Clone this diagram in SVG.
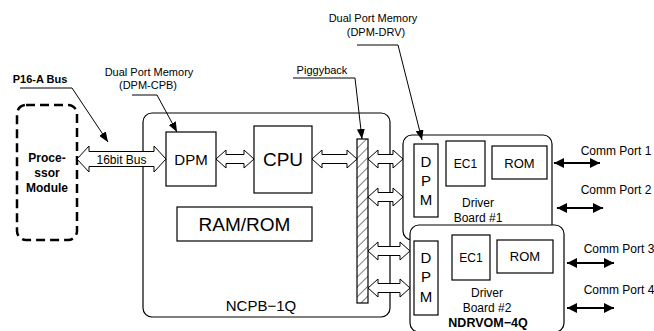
<svg xmlns="http://www.w3.org/2000/svg" width="654" height="331" viewBox="0 0 654 331">
<defs>
<marker id="tri" viewBox="0 0 10 8" refX="10" refY="4" markerWidth="10" markerHeight="8" markerUnits="userSpaceOnUse" orient="auto"><path d="M0,0 L10,4 L0,8 Z" fill="#000"/></marker>
<marker id="tri2" viewBox="0 0 10 10" refX="10" refY="5" markerWidth="11" markerHeight="10" markerUnits="userSpaceOnUse" orient="auto-start-reverse"><path d="M0,0 L10,5 L0,10 Z" fill="#000"/></marker>
<pattern id="hatch" patternUnits="userSpaceOnUse" width="7" height="7" patternTransform="rotate(45)">
<rect width="7" height="7" fill="#fff"/><line x1="0" y1="0" x2="0" y2="7" stroke="#000" stroke-width="1"/>
</pattern>
</defs>
<style>
.box{fill:#fff;stroke:#000;stroke-width:1.2}
.t{font-family:"Liberation Sans",Arial,sans-serif;fill:#000;text-anchor:middle}
.lead{fill:none;stroke:#000;stroke-width:1}
.harrow{fill:#fff;stroke:#000;stroke-width:1}
.comm{stroke:#000;stroke-width:2}
</style>
<rect width="654" height="331" fill="#fff"/>

<g id="processor-module">
<rect x="17" y="105" width="60" height="135" rx="9" fill="#fff" stroke="#000" stroke-width="2.5" stroke-dasharray="9 5"/>
<text class="t" x="47" y="162" font-size="12" font-weight="bold">Proce-</text>
<text class="t" x="47" y="177" font-size="12" font-weight="bold">ssor</text>
<text class="t" x="47" y="192" font-size="12" font-weight="bold">Module</text>
</g>

<g id="ncpb">
<rect class="box" x="143" y="113" width="247" height="204" rx="9"/>
<text class="t" x="261" y="311" font-size="15">NCPB−1Q</text>
</g>

<g id="dpm-cpb">
<rect class="box" x="166" y="132" width="50" height="54"/>
<text class="t" x="191" y="164.5" font-size="15">DPM</text>
</g>

<g id="cpu">
<rect class="box" x="254" y="126" width="58" height="67"/>
<text class="t" x="283" y="166" font-size="19">CPU</text>
</g>

<g id="ramrom">
<rect class="box" x="177" y="207" width="135" height="34"/>
<text class="t" x="244.5" y="231" font-size="19">RAM/ROM</text>
</g>

<g id="piggyback">
<rect x="357" y="139" width="11" height="164" fill="url(#hatch)" stroke="#000" stroke-width="1.2"/>
</g>

<g id="driver-board-1">
<rect class="box" x="403" y="135" width="149" height="105" rx="9"/>
<rect class="box" x="414" y="144" width="24" height="73"/>
<text class="t" x="426" y="167" font-size="15">D</text>
<text class="t" x="426" y="186" font-size="15">P</text>
<text class="t" x="426" y="205" font-size="15">M</text>
<rect class="box" x="446" y="141" width="39" height="45"/>
<text class="t" x="465.5" y="168" font-size="12">EC1</text>
<rect class="box" x="492" y="146" width="55" height="33"/>
<text class="t" x="519.5" y="167.5" font-size="13">ROM</text>
<text class="t" x="478" y="207" font-size="12">Driver</text>
<text class="t" x="478" y="222" font-size="12">Board #1</text>
</g>

<g id="driver-board-2">
<rect class="box" x="410" y="225" width="154" height="107" rx="9"/>
<rect class="box" x="414" y="241" width="24" height="74"/>
<text class="t" x="426" y="263" font-size="15">D</text>
<text class="t" x="426" y="282" font-size="15">P</text>
<text class="t" x="426" y="302" font-size="15">M</text>
<rect class="box" x="452" y="235" width="38" height="45"/>
<text class="t" x="471" y="262" font-size="12">EC1</text>
<rect class="box" x="497" y="240" width="56" height="33"/>
<text class="t" x="525" y="261" font-size="13">ROM</text>
<text class="t" x="487" y="297" font-size="12">Driver</text>
<text class="t" x="487" y="312" font-size="12">Board #2</text>
<text class="t" x="488" y="327" font-size="12.5" font-weight="bold">NDRVOM−4Q</text>
</g>

<g id="labels">
<text class="t" x="40" y="83" font-size="11" font-weight="bold">P16-A Bus</text>
<text class="t" x="149" y="76" font-size="11">Dual Port Memory</text>
<text class="t" x="148" y="89" font-size="11">(DPM-CPB)</text>
<text class="t" x="322" y="74" font-size="11">Piggyback</text>
<text class="t" x="373" y="22" font-size="11">Dual Port Memory</text>
<text class="t" x="376" y="36" font-size="11">(DPM-DRV)</text>
<text class="t" x="616" y="155" font-size="12">Comm Port 1</text>
<text class="t" x="616" y="194" font-size="12">Comm Port 2</text>
<text class="t" x="619" y="253" font-size="12">Comm Port 3</text>
<text class="t" x="619" y="294" font-size="12">Comm Port 4</text>
</g>

<g id="connectors">
<path class="harrow" d="M77,159 L89,146 L89,151.5 L154,151.5 L154,146 L166,159 L154,172 L154,166.5 L89,166.5 L89,172 Z"/>
<text class="t" x="121.5" y="163.5" font-size="12">16bit Bus</text>
<path class="harrow" d="M216,159 L226,150 L226,154.5 L244,154.5 L244,150 L254,159 L244,168 L244,163.5 L226,163.5 L226,168 Z"/>
<path class="harrow" d="M312,159 L322,150 L322,154.5 L347,154.5 L347,150 L357,159 L347,168 L347,163.5 L322,163.5 L322,168 Z"/>
<path class="harrow" d="M368,159 L378,150 L378,154.5 L393,154.5 L393,150 L403,159 L393,168 L393,163.5 L378,163.5 L378,168 Z"/>
<path class="harrow" d="M368,197 L378,188 L378,192.5 L393,192.5 L393,188 L403,197 L393,206 L393,201.5 L378,201.5 L378,206 Z"/>
<path class="harrow" d="M368,251 L378,242 L378,246.5 L400,246.5 L400,242 L410,251 L400,260 L400,255.5 L378,255.5 L378,260 Z"/>
<path class="harrow" d="M368,288 L378,279 L378,283.5 L400,283.5 L400,279 L410,288 L400,297 L400,292.5 L378,292.5 L378,297 Z"/>

<polyline class="lead" points="20,88 72,88 108,142" marker-end="url(#tri)"/>
<polyline class="lead" points="132,95 157,95 177,132" marker-end="url(#tri)"/>
<polyline class="lead" points="293,78 355,78 362,139" marker-end="url(#tri)"/>
<polyline class="lead" points="357,45 398,45 422,140" marker-end="url(#tri)"/>

<line class="comm" x1="554" y1="163" x2="600" y2="163" marker-start="url(#tri2)" marker-end="url(#tri2)"/>
<line class="comm" x1="557" y1="208" x2="603" y2="208" marker-start="url(#tri2)" marker-end="url(#tri2)"/>
<line class="comm" x1="567" y1="263" x2="614" y2="263" marker-start="url(#tri2)" marker-end="url(#tri2)"/>
<line class="comm" x1="567" y1="308" x2="614" y2="308" marker-start="url(#tri2)" marker-end="url(#tri2)"/>
</g>
</svg>
